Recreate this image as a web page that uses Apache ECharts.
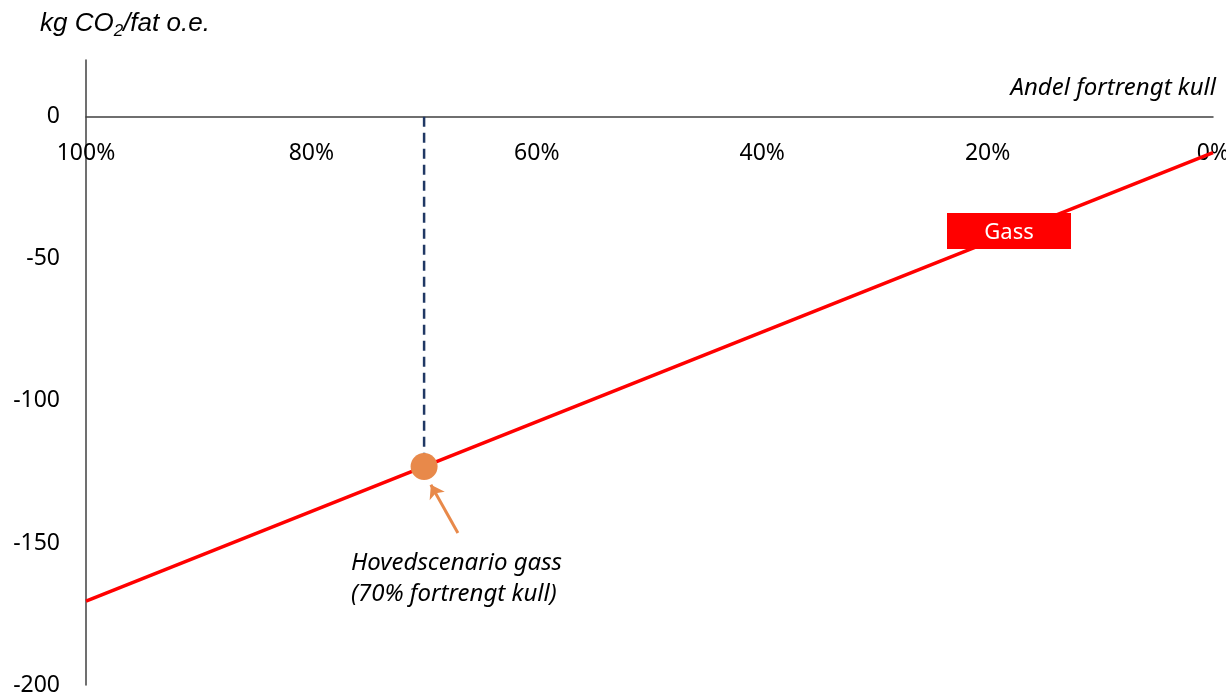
<!DOCTYPE html>
<html>
<head>
<meta charset="utf-8">
<script src="https://cdn.jsdelivr.net/npm/echarts@6/dist/echarts.min.js"></script>
<style>
  html, body { margin: 0; padding: 0; background: #fff; }
  #chart { width: 1226px; height: 693px; }
</style>
</head>
<body>
<div id="chart"></div>
<script>
// andel fortrengt kull (%) og utslipp (kg CO2/fat o.e.)
const shares = [100, 0]
const gassValues = [-170.5, -12.6]
const yTicks = [0, -50, -100, -150, -200]
const xTicks = [100, 80, 60, 40, 20, 0]

// hovedscenario
const mainShare = 70
const mainValue = -123.1
const arrowFrom = [67.0, -146.5]
const arrowTo = [69.4, -129.5]

const font = '"Noto Sans", sans-serif'

const yMin = -200
const yMax = 20
const gridTop = 60
const gridBottom = 8
// x-aksen ligger på y = 0
const zeroOffset = (693 - gridTop - gridBottom) * yMax / (yMax - yMin)

const chart = echarts.init(document.getElementById('chart'))
chart.setOption({
  animation: false,
  grid: { left: 86, right: 13, top: gridTop, bottom: gridBottom, outerBoundsMode: 'none' },
  xAxis: {
    type: 'value',
    position: 'top',
    offset: -zeroOffset,
    min: 0,
    max: 100,
    interval: 20,
    inverse: true,
    axisLine: { onZero: false, lineStyle: { color: '#404040', width: 1.5 } },
    axisTick: { show: false },
    splitLine: { show: false },
    axisLabel: {
      inside: true,
      color: '#000',
      fontFamily: font,
      fontSize: 23,
      margin: 25,
      formatter: v => xTicks.includes(v) ? v + '%' : ''
    }
  },
  yAxis: {
    type: 'value',
    min: yMin,
    max: yMax,
    interval: 50,
    axisLine: { show: true, onZero: false, lineStyle: { color: '#404040', width: 1.5 } },
    axisTick: { show: false },
    splitLine: { show: false },
    axisLabel: {
      color: '#000',
      fontFamily: font,
      fontSize: 23,
      margin: 26,
      formatter: v => yTicks.includes(v) ? String(v) : ''
    }
  },
  series: [
    {
      name: 'Gass',
      type: 'line',
      data: shares.map((s, i) => [s, gassValues[i]]),
      symbol: 'none',
      lineStyle: { color: '#FF0000', width: 3.5 },
      z: 3
    },
    {
      name: 'dashed',
      type: 'line',
      data: [[mainShare, 0], [mainShare, mainValue]],
      symbol: 'none',
      lineStyle: { color: '#203864', width: 2.5, type: [10, 6] },
      z: 2
    },
    {
      name: 'Hovedscenario',
      type: 'scatter',
      data: [[mainShare, mainValue]],
      symbolSize: 27,
      itemStyle: { color: '#E8894A', opacity: 1 },
      z: 5,
      markLine: {
        silent: true,
        symbol: ['none', 'arrow'],
        symbolSize: 13,
        label: { show: false },
        lineStyle: { color: '#E8894A', width: 3, type: 'solid', opacity: 1 },
        data: [[{ coord: arrowFrom }, { coord: arrowTo }]]
      }
    }
  ],
  graphic: [
    {
      type: 'text',
      left: 40,
      top: 11,
      z: 10,
      style: {
        text: '{a|kg CO}{s|2}{a|/fat o.e.}',
        rich: {
          a: { fontFamily: '"Liberation Sans", Arial, sans-serif', fontStyle: 'italic', fontSize: 26, fill: '#000' },
          s: { fontFamily: '"Liberation Sans", Arial, sans-serif', fontStyle: 'italic', fontSize: 17, fill: '#000', padding: [14, 0, 0, 0] }
        }
      }
    },
    {
      type: 'text',
      right: 10,
      top: 76,
      z: 10,
      style: {
        text: 'Andel fortrengt kull',
        fontFamily: font,
        fontStyle: 'italic',
        fontSize: 24,
        fill: '#000'
      }
    },
    {
      type: 'group',
      left: 947,
      top: 213,
      z: 10,
      children: [
        { type: 'rect', z: 10, shape: { x: 0, y: 0, width: 124, height: 36 }, style: { fill: '#FF0000' } },
        {
          type: 'text',
          z: 11,
          x: 62, y: 20,
          style: { text: 'Gass', fill: '#fff', fontFamily: font, fontSize: 22, align: 'center', verticalAlign: 'middle' }
        }
      ]
    },
    {
      type: 'text',
      left: 351,
      top: 548,
      z: 10,
      style: {
        text: 'Hovedscenario gass\n(70% fortrengt kull)',
        fontFamily: font,
        fontStyle: 'italic',
        fontSize: 24,
        lineHeight: 31,
        align: 'center',
        fill: '#000'
      }
    }
  ]
})
</script>
</body>
</html>
